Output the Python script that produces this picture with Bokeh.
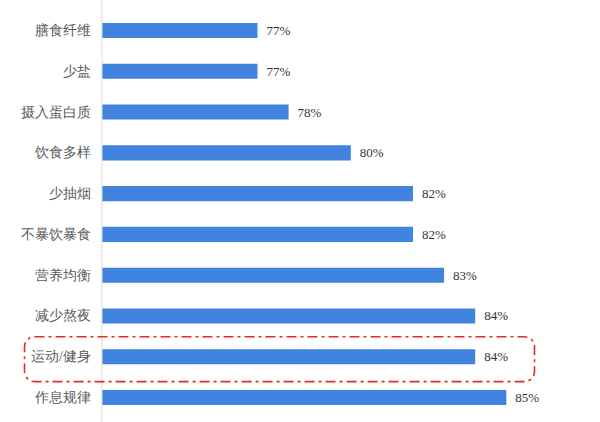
from bokeh.plotting import figure
from bokeh.models import ColumnDataSource, Range1d, BoxAnnotation, LabelSet, Span
from bokeh.embed import file_html
from bokeh.resources import INLINE

# data (top to bottom)
categories = ["膳食纤维", "少盐", "摄入蛋白质", "饮食多样", "少抽烟", "不暴饮暴食", "营养均衡", "减少熬夜", "运动/健身", "作息规律"]
values = [77, 77, 78, 80, 82, 82, 83, 84, 84, 85]
highlight = "运动/健身"
axis_start = 72

n = len(categories)
pos = [n - 1 - i for i in range(n)]
src = ColumnDataSource(dict(
    y=pos, v=values, left=[axis_start] * n, cat=categories,
    lab=[f"{v}%" for v in values],
))

W, H = 600, 422
px_per_unit = 31.1
axis_px = 101.5
x_start = axis_start - axis_px / px_per_unit
x_end = x_start + W / px_per_unit

band = 40.78
y_end = (n - 1) + 30 / band
y_start = y_end - H / band

p = figure(width=W, height=H, output_backend="svg", toolbar_location=None,
           x_range=Range1d(x_start, x_end), y_range=Range1d(y_start, y_end),
           min_border=0, x_axis_location=None, y_axis_location=None)
p.outline_line_color = None
p.grid.visible = False
p.background_fill_color = "white"
p.border_fill_color = "white"

# axis line
p.add_layout(Span(location=axis_start, dimension="height", line_color="#D9D9D9", line_width=1))

p.hbar(y="y", left="left", right="v", height=0.37, source=src,
       fill_color="#4084E0", line_color=None)

cat_labels = LabelSet(x="left", y="y", text="cat", source=src, x_offset=-11,
                      text_baseline="middle", text_align="right",
                      text_font="Noto Sans CJK SC", text_font_size="14px", text_color="#5A5A5A")
p.add_layout(cat_labels)

labels = LabelSet(x="v", y="y", text="lab", source=src, x_offset=9,
                  text_baseline="middle", text_align="left",
                  text_font="Open Sans", text_font_size="13px", text_color="#333333")
p.add_layout(labels)

hi = pos[categories.index(highlight)]
box = BoxAnnotation(left=24, right=534, left_units="screen", right_units="screen",
                    top=hi + 0.49, bottom=hi - 0.61,
                    fill_alpha=0, line_color="#E32B2B", line_alpha=1, line_width=1.6,
                    line_dash="10 4 3 4", border_radius=10)
p.add_layout(box)

open("out.html", "w").write(file_html(p, INLINE))
